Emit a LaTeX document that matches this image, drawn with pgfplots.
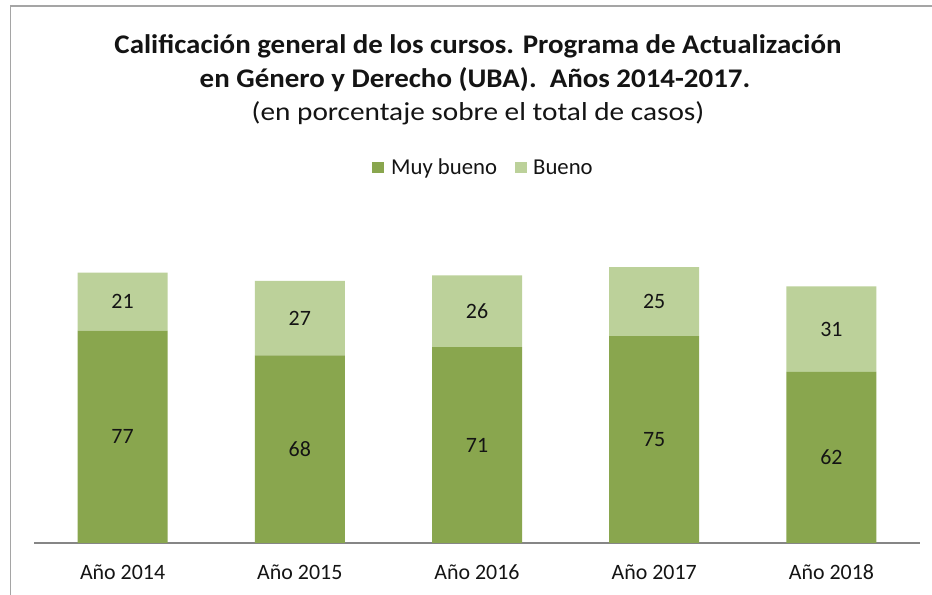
\documentclass[border=0pt]{standalone}
\usepackage{pgfplots}
\pgfplotsset{compat=1.18}
\usepackage{fontspec}
\setmainfont{Carlito}
\newfontfamily\titlefont{Carlito}[FakeStretch=1.075]
\newfontfamily\subfont{Carlito}[FakeStretch=1.13]
\definecolor{dark}{RGB}{137,166,78}
\definecolor{light}{RGB}{188,209,154}
\definecolor{framec}{RGB}{165,165,165}
\definecolor{axisc}{RGB}{134,134,134}
\definecolor{txt}{RGB}{20,20,20}
\begin{document}
\begin{tikzpicture}[x=1bp,y=1bp]
\useasboundingbox (0,0) rectangle (932,595);
\fill[white] (0,0) rectangle (932,595);
\draw[framec, line width=1.5bp] (10.5,0) -- (10.5,589) -- (932,589);
\node[anchor=base, text=txt, font=\titlefont\bfseries\fontsize{27}{30}\selectfont] at (478,541) {Calificación general de los cursos. Programa de Actualización};
\node[anchor=base, text=txt, font=\titlefont\bfseries\fontsize{27}{30}\selectfont] at (475,507) {en Género y Derecho (UBA).\ \ Años 2014-2017.};
\node[anchor=base, text=txt, font=\subfont\fontsize{26}{30}\selectfont] at (478,474) {(en porcentaje sobre el total de casos)};
% legend
\fill[dark] (372,422) rectangle (384,433);
\node[anchor=base west, inner sep=0pt, text=txt, font=\fontsize{22.8}{26}\selectfont] at (391,420) {Muy bueno};
\fill[light] (515,422) rectangle (527,433);
\node[anchor=base west, inner sep=0pt, text=txt, font=\fontsize{22.8}{26}\selectfont] at (533,420) {Bueno};
\begin{axis}[
  at={(34bp,52bp)}, anchor=south west,
  scale only axis, width=886bp, height=275.8bp,
  ybar stacked, bar width=90bp,
  xmin=-0.5, xmax=4.5, ymin=0, ymax=100,
  axis y line=none, axis x line*=bottom,
  x axis line style={axisc, line width=1.3bp, -},
  xtick={0,1,2,3,4}, xticklabels={Año 2014,Año 2015,Año 2016,Año 2017,Año 2018},
  major tick length=0pt,
  xticklabel style={font=\fontsize{22}{26}\selectfont, text=txt, yshift=-18bp},
  clip=false,
]
\addplot[fill=dark, draw=none] coordinates {(0,77) (1,68) (2,71) (3,75) (4,62)};
\addplot[fill=light, draw=none] coordinates {(0,21) (1,27) (2,26) (3,25) (4,31)};
\end{axis}
\begin{axis}[
  at={(34bp,52bp)}, anchor=south west,
  scale only axis, width=886bp, height=275.8bp,
  xmin=-0.5, xmax=4.5, ymin=0, ymax=100,
  hide axis, clip=false,
]
\addplot[draw=none, mark=none, nodes near coords, nodes near coords align=center,
  point meta=explicit symbolic,
  every node near coord/.style={text=txt, font=\fontsize{22}{26}\selectfont}]
  coordinates {(0,38.5)[77] (1,34)[68] (2,35.5)[71] (3,37.5)[75] (4,31)[62]};
\addplot[draw=none, mark=none, nodes near coords, nodes near coords align=center,
  point meta=explicit symbolic,
  every node near coord/.style={text=txt, font=\fontsize{22}{26}\selectfont}]
  coordinates {(0,87.5)[21] (1,81.5)[27] (2,84)[26] (3,87.5)[25] (4,77.5)[31]};
\end{axis}
\end{tikzpicture}
\end{document}
